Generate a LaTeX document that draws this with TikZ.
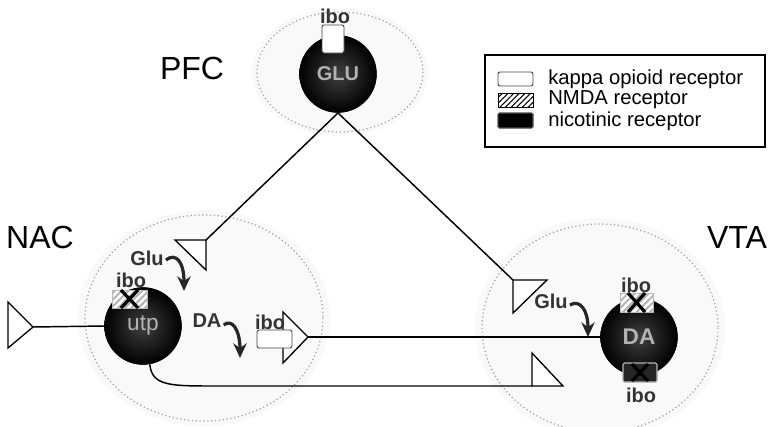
\documentclass[tikz,border=0pt]{standalone}
\usepackage{fontspec}
\setmainfont{Liberation Sans}
\usetikzlibrary{patterns.meta,arrows.meta}
\begin{document}
\begin{tikzpicture}[x=0.75pt,y=-0.75pt,
  region/.style={draw=gray!75, dotted, line width=0.9pt},
  halo/.style={fill=gray!5, draw=none},
  cell/.style={circle, inner sep=0pt, minimum size=58pt, inner color=gray!50!black, outer color=black, text=gray!60},
  wire/.style={line width=1.1pt},
  term/.style={draw, line width=1pt, fill=white, line join=miter},
  kappa/.style={draw=gray!55!black, fill=white, rounded corners=1.5pt, line width=0.7pt},
  nmda/.style={preaction={fill=white}, pattern={Lines[angle=45,distance=3.6pt,line width=1.5pt]}, pattern color=gray!60, draw=gray!55, line width=0.6pt},
  nico/.style={fill=gray!30!black, draw=gray!60, line width=0.8pt, rounded corners=1pt},
  xmark/.style={line width=2.4pt, black},
  curv/.style={line width=2.4pt, black!85, -{Stealth[length=11pt,width=10pt]}},
  lab/.style={font=\bfseries\fontsize{15}{16}\selectfont, text=black!80, inner sep=0pt},
  big/.style={font=\fontsize{24}{26}\selectfont, inner sep=0pt},
  leg/.style={font=\fontsize{15.2}{17}\selectfont, anchor=west, inner sep=0pt}
]
\useasboundingbox (0,0) rectangle (772,426);
% regions
\fill[halo] (340,72) ellipse [x radius=88, y radius=64];
\draw[region] (340,72) ellipse [x radius=83, y radius=60];
\fill[halo] (204,318) ellipse [x radius=126, y radius=108];
\draw[region] (204,318) ellipse [x radius=119, y radius=103];
\fill[halo] (600,328) ellipse [x radius=125, y radius=110];
\draw[region] (600,328) ellipse [x radius=118, y radius=104];

% cells
\node[cell] (glu) at (338,74) {};
\node[cell] (utp) at (143,326) {};
\node[cell] (da) at (639,337) {};

% terminal coordinates
\coordinate (nacT) at (206,240);
\coordinate (vtaT) at (513,280);
\coordinate (inT) at (33,327);
\coordinate (daT) at (308,337);
\coordinate (vbT) at (532,386);

% connectors
\draw[wire] (glu.south) -- (nacT);
\draw[wire] (glu.south) -- (vtaT);
\draw[wire] (inT) -- (utp.west);
\draw[wire] (daT) -- (da.west);
\draw[wire] (utp.-80) .. controls (152,386) and (170,386) .. (215,386) -- (vbT);

% terminals
\draw[term] (175,240) -- (nacT) -- (206,270) -- cycle;
\draw[term] (vtaT) -- (547,280) -- (513,313) -- cycle;
\draw[term] (532,353) -- (vbT) -- (563,386) -- cycle;
\draw[term] (283,312) -- (daT) -- (283,363) -- cycle;
\draw[term] (8,302) -- (inT) -- (8,348) -- cycle;

% redraw cells on top
\node[cell, font=\bfseries\fontsize{15}{16}\selectfont] at (glu) {GLU};
\node[cell, font=\fontsize{17}{18}\selectfont] at (utp) {utp};
\node[cell, font=\bfseries\fontsize{17}{18}\selectfont] at (da) {DA};

% receptors
\draw[kappa] (322,25) rectangle (344,53);
\draw[kappa] (257,330) rectangle (292,348);
\draw[nmda] (112,290) rectangle (147,308);
\draw[xmark] (121,290) -- (138,308) (138,290) -- (121,308);
\draw[nmda] (620,293) rectangle (653,312);
\draw[xmark] (628,293) -- (645,312) (645,293) -- (628,312);
\draw[nico] (623,363) rectangle (657,382);
\draw[xmark] (632,364) -- (648,381) (648,364) -- (632,381);

% labels
\node[lab] at (335,16) {ibo};
\node[lab] at (131,280) {ibo};
\node[lab] at (270,322) {ibo};
\node[lab] at (636,285) {ibo};
\node[lab] at (641,395) {ibo};
\node[lab] (gluN) at (147,258) {Glu};
\node[lab] (daN) at (207,321) {DA};
\node[lab] (gluV) at (551,301) {Glu};

% curved arrows
\draw[curv] (gluN.east) ++(2,2) .. controls (176,252) and (184,262) .. (184,291);
\draw[curv] (daN.east) ++(2,4) .. controls (232,318) and (240,330) .. (240,358);
\draw[curv] (gluV.east) ++(2,4) .. controls (580,299) and (588,310) .. (588,337);

% region names
\node[big] at (192,68) {PFC};
\node[big] at (40,237) {NAC};
\node[big] at (737,237) {VTA};

% legend
\draw[line width=0.8pt] (485,55) rectangle (765,147);
\draw[kappa] (498,72) rectangle (533,86);
\node[leg] at (548,79) {kappa opioid receptor};
\draw[preaction={fill=white}, pattern={Lines[angle=45,distance=3pt,line width=0.8pt]}, draw=black, line width=0.6pt] (498,93) rectangle (533,107);
\node[leg] at (548,100) {NMDA receptor};
\draw[fill=black, draw=gray!60!black, line width=0.8pt, rounded corners=1pt] (498,113) rectangle (533,128);
\node[leg] at (548,121) {nicotinic receptor};
\end{tikzpicture}
\end{document}
